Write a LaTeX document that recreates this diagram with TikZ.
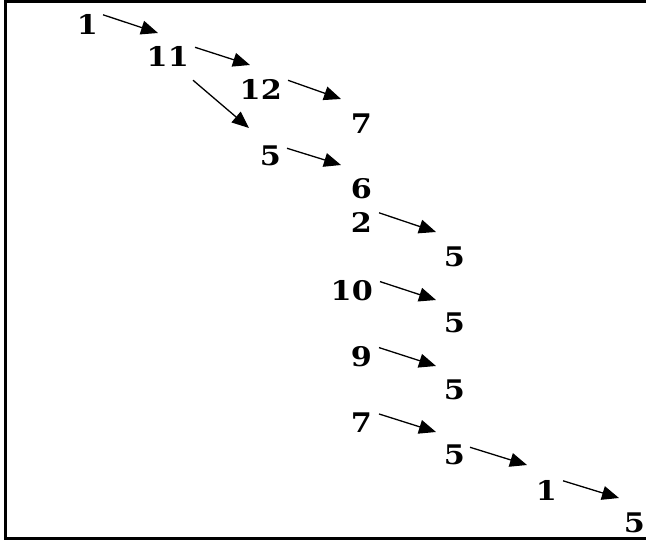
\documentclass[tikz,border=0pt]{standalone}
\usepackage{fontspec}
\setmainfont{DejaVu Serif}[FakeStretch=1.12]
\usetikzlibrary{arrows.meta}
\begin{document}
\begin{tikzpicture}[x=1pt,y=-1pt,
  num/.style={anchor=east,inner sep=0pt,font=\fontsize{27}{29}\selectfont\bfseries},
  arr/.style={-{Triangle[length=17pt,width=14pt]},line width=1.3pt},
  frame/.style={line width=3pt}]
\useasboundingbox (0,0) rectangle (646,540);
\draw[frame] (646,2) -- (5,2) -- (5,538) -- (646,538);
\node[num] (a) at (98,24) {1};
\node[num] (b) at (189,56) {11};
\node[num] (c) at (282,89) {12};
\node[num] (d) at (372,124) {7};
\node[num] (e) at (281,156) {5};
\node[num] (f) at (372,189) {6};
\node[num] (g) at (372,222) {2};
\node[num] (h) at (465,257) {5};
\node[num] (i) at (373,291) {10};
\node[num] (j) at (465,323) {5};
\node[num] (k) at (372,357) {9};
\node[num] (l) at (465,390) {5};
\node[num] (m) at (372,423) {7};
\node[num] (n) at (465,455) {5};
\node[num] (o) at (557,490) {1};
\node[num] (p) at (645,523) {5};
\coordinate (ta) at (158,33);
\coordinate (tb) at (250,65);
\coordinate (tb2) at (249,128);
\coordinate (tc) at (341,99);
\coordinate (te) at (341,165);
\coordinate (tg) at (436,232);
\coordinate (ti) at (436,300);
\coordinate (tk) at (436,366);
\coordinate (tm) at (436,432);
\coordinate (tn) at (527,465);
\coordinate (to) at (619,498);
\draw[arr] ([shift={(5,1)}]a.north east) -- (ta);
\draw[arr] ([shift={(6,1.5)}]b.north east) -- (tb);
\draw[arr] ([shift={(4,14)}]b.south east) -- (tb2);
\draw[arr] ([shift={(6,1.5)}]c.north east) -- (tc);
\draw[arr] ([shift={(6,2.5)}]e.north east) -- (te);
\draw[arr] ([shift={(7,1)}]g.north east) -- (tg);
\draw[arr] ([shift={(7,1)}]i.north east) -- (ti);
\draw[arr] ([shift={(7,1)}]k.north east) -- (tk);
\draw[arr] ([shift={(7,1)}]m.north east) -- (tm);
\draw[arr] ([shift={(5,2.5)}]n.north east) -- (tn);
\draw[arr] ([shift={(6,1)}]o.north east) -- (to);
\end{tikzpicture}
\end{document}
